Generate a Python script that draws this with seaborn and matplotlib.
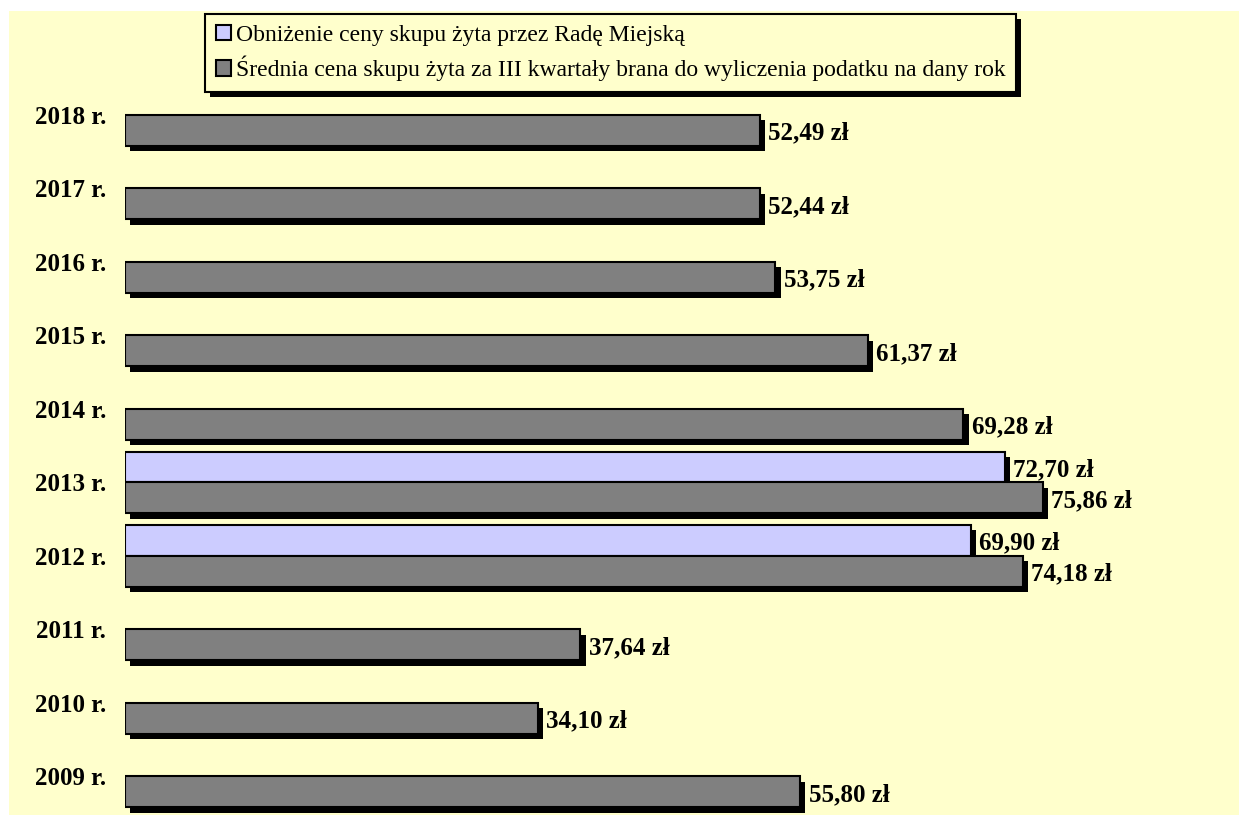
import matplotlib
matplotlib.use("Agg")
import pandas as pd
import matplotlib.pyplot as plt
import matplotlib.patheffects as pe
from matplotlib.patches import Rectangle, Patch
import seaborn as sns

# dane
years = ["2018 r.", "2017 r.", "2016 r.", "2015 r.", "2014 r.",
         "2013 r.", "2012 r.", "2011 r.", "2010 r.", "2009 r."]
avg_price = [52.49, 52.44, 53.75, 61.37, 69.28, 75.86, 74.18, 37.64, 34.10, 55.80]
reduced_years = ["2013 r.", "2012 r."]
reduced_price = [72.70, 69.90]

label_reduced = "Obniżenie ceny skupu żyta przez Radę Miejską"
label_avg = "Średnia cena skupu żyta za III kwartały brana do wyliczenia podatku na dany rok"
colors = ["#CCCCFF", "#808080"]

df = pd.concat([
    pd.DataFrame({"rok": reduced_years, "cena": reduced_price, "seria": label_reduced}),
    pd.DataFrame({"rok": years, "cena": avg_price, "seria": label_avg}),
], ignore_index=True)

sns.set_style("white")
plt.rcParams["font.family"] = ["Liberation Serif", "DejaVu Serif"]
plt.rcParams["text.color"] = "black"
plt.rcParams["ytick.color"] = "black"
plt.rcParams["ytick.labelcolor"] = "black"

W, H = 1239, 815
fig = plt.figure(figsize=(W / 100, H / 100), dpi=100)
fig.add_artist(Rectangle((9 / W, 0), 1 - 9 / W, 1 - 11 / H, transform=fig.transFigure,
                         facecolor="#FFFFCC", edgecolor="none", zorder=-10))

ax = fig.add_axes([125 / W, 0, 1 - 125 / W, 1 - 78 / H])
ax.patch.set_visible(False)

sns.barplot(data=df, x="cena", y="rok", hue="seria", order=years,
            hue_order=[label_reduced, label_avg], palette=colors, saturation=1,
            width=0.84, edgecolor="black", linewidth=1.5, orient="h",
            errorbar=None, legend=False, ax=ax)

shadow = [pe.SimplePatchShadow(offset=(3.8, -3.8), shadow_rgbFace="black", alpha=1), pe.Normal()]
for p in ax.patches:
    p.set_path_effects(shadow)

for c in ax.containers:
    labels = [f"{v:.2f} zł".replace(".", ",") for v in c.datavalues]
    txts = ax.bar_label(c, labels=labels, padding=6, fontsize=18, fontweight="bold", color="black")
    for t in txts:
        t.set_va("center_baseline")

ax.set_xlim(0, (W - 125) / 12.1)
ax.set_ylim(9.524, -0.503)
ax.set_xlabel("")
ax.set_ylabel("")
ax.set_xticks([])
ax.tick_params(axis="y", length=0, pad=13.5, labelcolor="black")
for t in ax.get_yticklabels():
    t.set_fontsize(18)
    t.set_fontweight("bold")
sns.despine(ax=ax, left=True, bottom=True)

handles = [Patch(facecolor=col, edgecolor="black", linewidth=1.5) for col in colors]
leg = ax.legend(handles, [label_reduced, label_avg], loc="upper left",
                bbox_to_anchor=(205 / W, 1 - 14 / H), bbox_transform=fig.transFigure,
                borderaxespad=0, frameon=True, fancybox=False, edgecolor="black",
                facecolor="#FFFFCC", framealpha=1, fontsize=17, labelcolor="black",
                handlelength=0.65, handleheight=0.65, handletextpad=0.2,
                labelspacing=0.42, borderpad=0.45)
leg.get_frame().set_linewidth(1.5)
leg.get_frame().set_path_effects(shadow)

fig.savefig("out.png", dpi=100)
plt.close("all")
